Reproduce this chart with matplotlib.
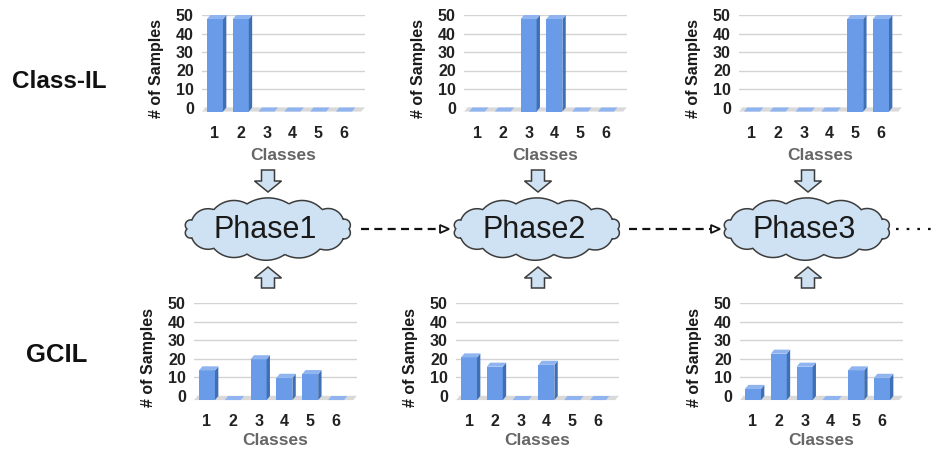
import numpy as np
import matplotlib
matplotlib.use("Agg")
import matplotlib.pyplot as plt
from matplotlib.patches import Polygon

plt.rcParams['font.family'] = ['Liberation Sans', 'DejaVu Sans']

# ---- data -------------------------------------------------------------
classes = [1, 2, 3, 4, 5, 6]
phase_names = ["Phase1", "Phase2", "Phase3"]
row_labels = ["Class-IL", "GCIL"]
y_ticks = [0, 10, 20, 30, 40, 50]

classil_phase1 = [50, 50, 0, 0, 0, 0]
classil_phase2 = [0, 0, 50, 50, 0, 0]
classil_phase3 = [0, 0, 0, 0, 50, 50]

gcil_phase1 = [16, 0, 22, 12, 14, 0]
gcil_phase2 = [23, 18, 0, 19, 0, 0]
gcil_phase3 = [6, 25, 18, 0, 16, 12]

# ---- figure geometry (pixels) ------------------------------------------
W, H = 945, 449
fig = plt.figure(figsize=(W / 100, H / 100), dpi=100)

FRONT = "#6a9be8"
SIDE = "#3f6fb5"
TOP = "#8fb4f0"
FLOOR = "#d9d9d9"
GRID = "#d3d3d3"

XMIN, XMAX = 0.5, 6.8
SPACING = 25.8          # pixels per class
BAR_W, DX, DY = 0.62, 0.13, 2.2

# overlay axes in pixel coordinates for the flow diagram
ov = fig.add_axes([0, 0, 1, 1])
ov.set_xlim(0, W)
ov.set_ylim(H, 0)
ov.axis("off")
ov.patch.set_alpha(0)


def chart(x1_px, y50_px, y0_px, values, xlabel_pad):
    left = x1_px - (1 - XMIN) * SPACING
    width = (XMAX - XMIN) * SPACING
    ax = fig.add_axes([left / W, (H - y0_px) / H, width / W, (y0_px - y50_px) / H])
    ax.set_xlim(XMIN, XMAX)
    ax.set_ylim(0, 50)
    for s in ax.spines.values():
        s.set_visible(False)
    ax.patch.set_alpha(0)
    ax.set_yticks(y_ticks)
    ax.set_xticks(classes)
    ax.grid(axis="y", color=GRID, lw=1.0)
    ax.set_axisbelow(True)
    ax.tick_params(length=0, labelsize=11.5, colors="#222222")
    ax.tick_params(axis="y", pad=6)
    ax.tick_params(axis="x", pad=13)
    for lab in ax.get_xticklabels() + ax.get_yticklabels():
        lab.set_fontweight("bold")

    # floor of the 3-D bar chart
    ax.add_patch(Polygon([(XMIN, -DY), (XMAX - DX, -DY), (XMAX, 0), (XMIN + DX, 0)],
                         closed=True, fc=FLOOR, ec="none", clip_on=False, zorder=1))
    # front faces
    ax.bar(classes, values, bottom=-DY, width=BAR_W, color=FRONT,
           clip_on=False, zorder=3)
    for x, v in zip(classes, values):
        xr = x + BAR_W / 2
        xl = x - BAR_W / 2
        ax.add_patch(Polygon([(xr, -DY), (xr + DX, 0), (xr + DX, v), (xr, v - DY)],
                             closed=True, fc=SIDE, ec="none", clip_on=False, zorder=3))
        ax.add_patch(Polygon([(xl, v - DY), (xr, v - DY), (xr + DX, v), (xl + DX, v)],
                             closed=True, fc=TOP, ec="none", clip_on=False, zorder=3))

    ax.set_xlabel("Classes", fontsize=12.5, fontweight="bold", color="#666666",
                  labelpad=xlabel_pad)
    ax.set_ylabel("# of Samples", fontsize=11.5, fontweight="bold", color="#1a1a1a")
    ax.yaxis.set_label_coords(-0.235, 0.42)
    return ax


top_x1 = [215, 477, 752]
bot_x1 = [207, 469, 753]
for x1, vals in zip(top_x1, [classil_phase1, classil_phase2, classil_phase3]):
    chart(x1, 15, 107.5, vals, 5)
for x1, vals in zip(bot_x1, [gcil_phase1, gcil_phase2, gcil_phase3]):
    chart(x1, 303.3, 396, vals, 2.5)

# row labels
ov.text(59, 82, row_labels[0], fontsize=17.5, fontweight="bold", ha="center", va="center", color="#111111")
ov.text(57, 355, row_labels[1], fontsize=18.5, fontweight="bold", ha="center", va="center", color="#111111")


# ---- clouds ------------------------------------------------------------
def cloud_outline(cx, cy, a, b, angles, sag):
    pts = []
    ang = np.radians(angles)
    n = len(ang)
    for i in range(n):
        t0, t1 = ang[i], ang[(i + 1) % n]
        A = np.array([cx + a * np.cos(t0), cy + b * np.sin(t0)])
        B = np.array([cx + a * np.cos(t1), cy + b * np.sin(t1)])
        c = np.linalg.norm(B - A)
        M = (A + B) / 2
        d = (B - A) / c
        nrm = np.array([d[1], -d[0]])
        if np.dot(nrm, M - np.array([cx, cy])) < 0:
            nrm = -nrm
        s = sag[i]
        r = (c * c / 4 + s * s) / (2 * s)
        C = M - nrm * (r - s)
        a0 = np.arctan2(A[1] - C[1], A[0] - C[0])
        a1 = np.arctan2(B[1] - C[1], B[0] - C[0])
        # choose the arc that passes through the outward side
        mid_dir = np.arctan2(nrm[1], nrm[0])
        da = (a1 - a0) % (2 * np.pi)
        test = a0 + da / 2
        if np.cos(test - mid_dir) < 0:
            da = da - 2 * np.pi
        tt = np.linspace(a0, a0 + da, 20)
        pts.extend(zip(C[0] + r * np.cos(tt), C[1] + r * np.sin(tt)))
    return pts


cloud_angles = [0, 22, 50, 78, 105, 132, 160, 180, 200, 228, 255, 285, 312, 338]
cloud_sags = [4, 5, 6, 6, 6, 5, 4, 4, 5, 6, 6, 6, 5, 4]
cloud_cx = [268, 537, 807]
CY = 229
for cx, name in zip(cloud_cx, phase_names):
    pts = cloud_outline(cx, CY, 81, 26, cloud_angles, cloud_sags)
    ov.add_patch(Polygon(pts, closed=True, fc="#cfe2f3", ec="#3c3c3c", lw=1.1, zorder=2))
    ov.text(cx - 3, CY + 1, name, fontsize=22, ha="center", va="center", color="#1a1a1a", zorder=3)


# ---- block arrows into each phase --------------------------------------
def block_arrow(cx, y_start, y_tip):
    sgn = 1 if y_tip > y_start else -1
    shaft, head_w, head_l = 6.5, 13.5, 11
    yb = y_tip - sgn * head_l
    pts = [(cx - shaft, y_start), (cx + shaft, y_start), (cx + shaft, yb),
           (cx + head_w, yb), (cx, y_tip), (cx - head_w, yb), (cx - shaft, yb)]
    ov.add_patch(Polygon(pts, closed=True, fc="#cfe2f3", ec="#3c3c3c", lw=1.1, zorder=2))


for cx in [268, 538, 808]:
    block_arrow(cx, 170, 192)
    block_arrow(cx, 288, 267)

# ---- dashed transitions between phases ---------------------------------
for x0, x1 in [(361, 440), (629, 711)]:
    ov.plot([x0, x1], [CY, CY], color="#111111", lw=1.6, ls=(0, (3.6, 2.4)),
            solid_capstyle="butt", dash_capstyle="butt", zorder=2)
    ov.add_patch(Polygon([(x1, CY - 4), (x1 + 9, CY), (x1, CY + 4)], closed=True,
                         fc="white", ec="#111111", lw=1.3, zorder=3))

ov.plot([896, 936], [CY, CY], color="#111111", lw=1.6, ls=(0, (1.2, 3.6)),
        dash_capstyle="butt", zorder=2)

fig.savefig("out.png", dpi=100)
